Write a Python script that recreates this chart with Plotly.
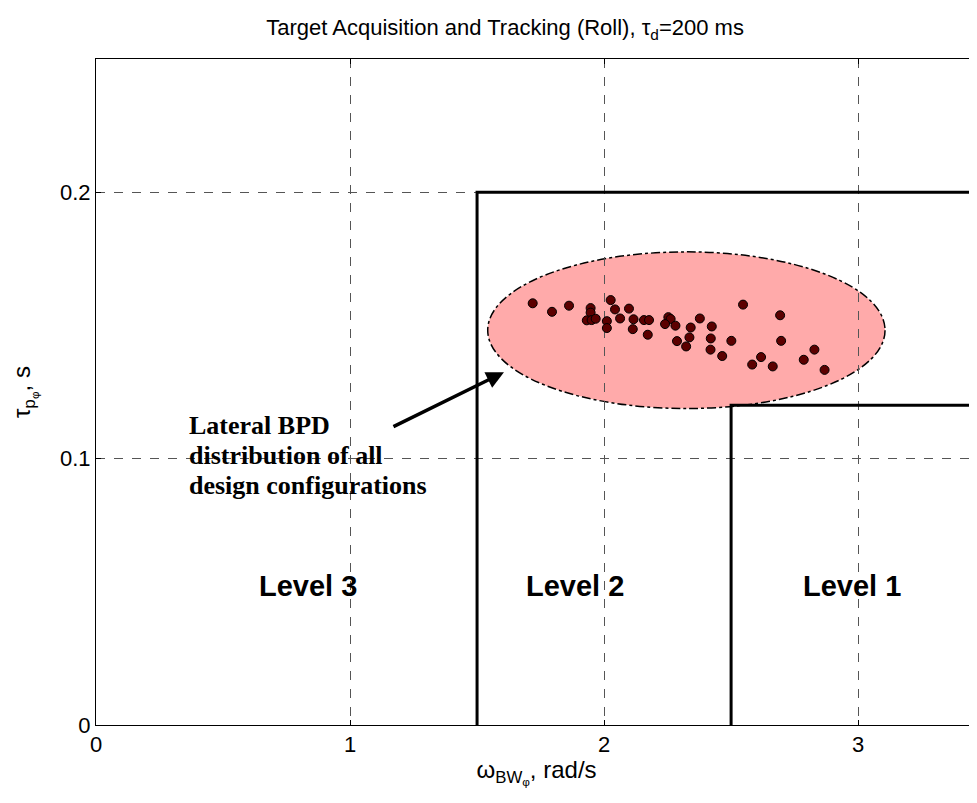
import plotly.graph_objects as go

# Lateral BPD points (bandwidth rad/s, phase delay s)
bw = [1.719, 1.795, 1.862, 1.947, 1.947, 1.932, 1.951, 1.967, 2.026, 2.043,
      2.063, 2.011, 2.011, 2.098, 2.116, 2.113, 2.157, 2.177, 2.172, 2.253,
      2.262, 2.240, 2.281, 2.287, 2.323, 2.336, 2.341, 2.377, 2.424, 2.420,
      2.419, 2.465, 2.501, 2.547, 2.693, 2.697, 2.618, 2.583, 2.664, 2.828,
      2.786, 2.868]
tau = [0.1583, 0.1551, 0.1574, 0.1565, 0.1548, 0.1519, 0.1520, 0.1525, 0.1595, 0.1560,
       0.1526, 0.1516, 0.1490, 0.1563, 0.1523, 0.1486, 0.1520, 0.1520, 0.1465, 0.1531,
       0.1524, 0.1505, 0.1499, 0.1441, 0.1421, 0.1455, 0.1492, 0.1526, 0.1496, 0.1451,
       0.1409, 0.1385, 0.1442, 0.1578, 0.1538, 0.1442, 0.1381, 0.1353, 0.1346, 0.1409,
       0.1371, 0.1333]

# level boundaries
lvl2_x = [1.5, 1.5, 3.6]
lvl2_y = [0, 0.2, 0.2]
lvl1_x = [2.5, 2.5, 3.6]
lvl1_y = [0, 0.12, 0.12]

# ellipse around the distribution
ell_x = [1.542, 3.106]
ell_y = [0.1188, 0.1776]

level_labels = ["Level 3", "Level 2", "Level 1"]
level_x = [0.835, 1.886, 2.977]
level_y = [0.052, 0.052, 0.052]

note_lines = ["Lateral BPD", "distribution of all", "design configurations"]
note_y = [0.1126, 0.1013, 0.0900]

fig = go.Figure()

fig.add_shape(type="circle", xref="x", yref="y",
              x0=ell_x[0], x1=ell_x[1], y0=ell_y[0], y1=ell_y[1],
              fillcolor="#ffaaaa", line=dict(color="black", width=1.5, dash="dashdot"),
              layer="below")

fig.add_trace(go.Scatter(x=lvl2_x, y=lvl2_y, mode="lines",
                         line=dict(color="black", width=3), showlegend=False))
fig.add_trace(go.Scatter(x=lvl1_x, y=lvl1_y, mode="lines",
                         line=dict(color="black", width=3), showlegend=False))

fig.add_trace(go.Scatter(x=bw, y=tau, mode="markers",
                         marker=dict(color="#5c0000", size=9,
                                     line=dict(color="black", width=1)),
                         showlegend=False))

for lab, lx, ly in zip(level_labels, level_x, level_y):
    fig.add_annotation(x=lx, y=ly, text="<b>" + lab + "</b>", showarrow=False,
                       font=dict(family="Arial", size=29, color="black"))

fig.add_annotation(x=1.606, y=0.1324, ax=1.165, ay=0.1117,
                   xref="x", yref="y", axref="x", ayref="y",
                   text="", showarrow=True, arrowhead=2, arrowsize=1.0,
                   arrowwidth=3.5, arrowcolor="black")

for ln, ny in zip(note_lines, note_y):
    fig.add_annotation(x=0.36, y=ny, xanchor="left", yanchor="middle",
                       text="<b>" + ln + "</b>", showarrow=False,
                       font=dict(family="Liberation Serif", size=26, color="black"))

# the page body has an 8px margin, so the figure is kept 16px smaller and margins offset
fig.update_layout(
    width=969, height=787,
    margin=dict(l=88, r=0, t=51, b=70),
    plot_bgcolor="white", paper_bgcolor="white",
    font=dict(family="Arial", size=22, color="black"),
    title=dict(text="Target Acquisition and Tracking (Roll), τ<sub>d</sub>=200 ms",
               x=0.513, xanchor="center", y=0.985, yanchor="top",
               font=dict(family="Arial", size=22)),
)
fig.update_xaxes(range=[0, 3.468], tickvals=[0, 1, 2, 3], ticktext=["0", "1", "2", "3"],
                 showgrid=True, gridcolor="#555", griddash="dash", gridwidth=1,
                 zeroline=False, showline=True, linecolor="black", linewidth=1,
                 mirror="ticks", ticks="inside", ticklen=5, tickcolor="black",
                 automargin=False,
                 title=dict(text="ω<sub>BW<sub>φ</sub></sub>, rad/s", font=dict(size=24),
                            standoff=4))
fig.update_yaxes(range=[0, 0.25], tickvals=[0, 0.1, 0.2], ticktext=["0", "0.1", "0.2"],
                 showgrid=True, gridcolor="#555", griddash="dash", gridwidth=1,
                 zeroline=False, showline=True, linecolor="black", linewidth=1,
                 ticks="inside", ticklen=5, tickcolor="black",
                 automargin=False,
                 title=dict(text="τ<sub>p<sub>φ</sub></sub>, s", font=dict(size=24),
                            standoff=22))

fig.write_html("out.html")
